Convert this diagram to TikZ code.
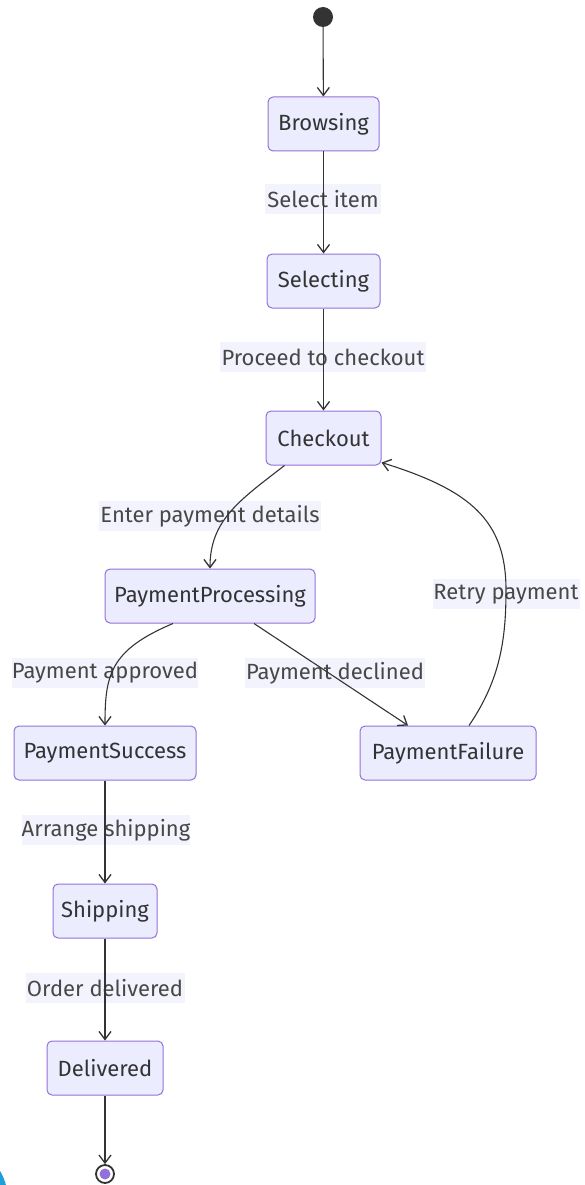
\documentclass[tikz,border=0pt]{standalone}
\usepackage{fontspec}
\setmainfont{Fira Sans}
\usetikzlibrary{arrows.meta}
\definecolor{nodefill}{HTML}{ECECFF}
\definecolor{nodeline}{HTML}{9370DB}
\definecolor{edgecol}{HTML}{333333}
\definecolor{lblfill}{HTML}{F3F3FD}
\definecolor{cornerblue}{HTML}{1C9FDA}
\begin{document}
\begin{tikzpicture}[x=1pt,y=-1pt,
  state/.style={draw=nodeline, fill=nodefill, rounded corners=5pt, line width=1pt,
    minimum height=54pt, inner sep=0pt, font=\fontsize{22}{26}\selectfont, text=edgecol},
  lbl/.style={fill=lblfill, inner sep=0pt, minimum height=30pt,
    font=\fontsize{22}{26}\selectfont, text=edgecol!90},
  edge/.style={draw=edgecol, line width=1.1pt, -{Straight Barb[length=8pt,width=12pt,line width=1.3pt]}}]
\useasboundingbox (0,0) rectangle (585,1185);
\begin{scope}
\clip (0,0) rectangle (585,1185);
\fill[cornerblue] (-49,1200) circle (57);
\end{scope}
% labels (drawn first so lines run over them)
\node[lbl, minimum width=116pt] (l1) at (323,199) {Select item};
\node[lbl, minimum width=206pt] (l2) at (323,357) {Proceed to checkout};
\node[lbl, minimum width=222pt] (l3) at (210,516) {Enter payment details};
\node[lbl, minimum width=147pt] (l4) at (506,594) {Retry payment};
\node[lbl, minimum width=186pt] (l5) at (105,673) {Payment approved};
\node[lbl, minimum width=180pt] (l6) at (335,673) {Payment declined};
\node[lbl, minimum width=168pt] (l7) at (106,830) {Arrange shipping};
\node[lbl, minimum width=159pt] (l8) at (105,988) {Order delivered};
% states
\node[circle, fill=edgecol, minimum size=20pt, inner sep=0pt] (start) at (323,17) {};
\node[state, minimum width=111pt] (browsing) at (323.5,124) {Browsing};
\node[state, minimum width=113pt] (selecting) at (323.5,281) {Selecting};
\node[state, minimum width=115pt] (checkout) at (323.5,438) {Checkout};
\node[state, minimum width=210pt] (pp) at (210,596) {PaymentProcessing};
\node[state, minimum width=182pt] (ps) at (105,753) {PaymentSuccess};
\node[state, minimum width=176pt] (pf) at (448,753) {PaymentFailure};
\node[state, minimum width=104pt] (shipping) at (105,911) {Shipping};
\node[state, minimum width=116pt] (delivered) at (105,1068) {Delivered};
\node[circle, draw=edgecol, line width=1.8pt, fill=white, minimum size=18pt, inner sep=0pt] (end) at (105,1174) {};
\fill[nodeline] (end.center) circle (5.5);
% edges
\draw[edge] (start) -- (browsing);
\draw[edge] (browsing) -- (selecting);
\draw[edge] (selecting) -- (checkout);
\draw[edge] ([xshift=19pt]checkout.south west) .. controls (240,500) and (210,520) .. (pp.north);
\draw[edge] ([xshift=-37pt]pp.south) .. controls (110,650) and (105,675) .. (ps.north);
\draw[edge] ([xshift=44pt]pp.south) -- ([xshift=-40pt]pf.north);
\draw[edge] ([xshift=21pt]pf.north) .. controls (500,680) and (506,640) .. (506,590)
  .. controls (506,520) and (470,490) .. ([yshift=3pt]checkout.south east);
\draw[edge] (ps) -- (shipping);
\draw[edge] (shipping) -- (delivered);
\draw[edge] (delivered) -- (end);
\end{tikzpicture}
\end{document}
